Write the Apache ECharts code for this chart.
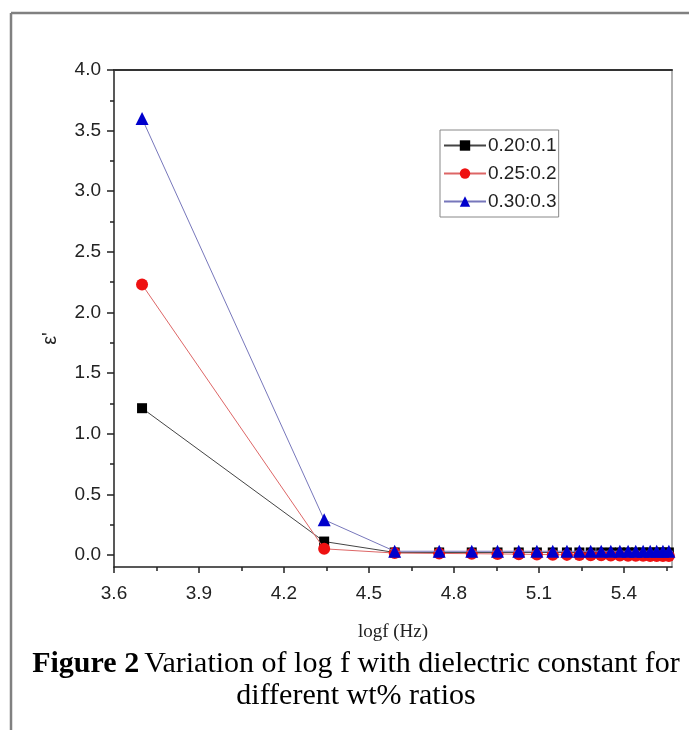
<!DOCTYPE html>
<html>
<head>
<meta charset="utf-8">
<script src="https://cdn.jsdelivr.net/npm/echarts@6/dist/echarts.min.js"></script>
<style>
html,body{margin:0;padding:0;background:#fff;}
#chart{width:689px;height:730px;}
</style>
</head>
<body>
<div id="chart"></div>
<script>
// log f (Hz) values
const logf = [3.699, 4.342, 4.591, 4.748, 4.863, 4.954, 5.029, 5.093, 5.149, 5.199, 5.243, 5.283, 5.320, 5.354, 5.386, 5.415, 5.442, 5.468, 5.493, 5.516, 5.538, 5.559, 5.579];
const series020 = [1.21, 0.11, 0.02, 0.02, 0.02, 0.02, 0.02, 0.02, 0.02, 0.02, 0.02, 0.02, 0.02, 0.02, 0.02, 0.02, 0.02, 0.02, 0.02, 0.02, 0.02, 0.02, 0.02];
const series025 = [2.23, 0.05, 0.015, 0.012, 0.01, 0.008, 0.006, 0.004, 0.002, 0.0, -0.002, -0.003, -0.004, -0.005, -0.006, -0.007, -0.008, -0.008, -0.009, -0.009, -0.01, -0.01, -0.01];
const series030 = [3.6, 0.29, 0.03, 0.03, 0.03, 0.03, 0.03, 0.03, 0.03, 0.03, 0.03, 0.03, 0.03, 0.03, 0.03, 0.03, 0.03, 0.03, 0.03, 0.03, 0.03, 0.03, 0.03];
const seriesNames = ['0.20:0.1', '0.25:0.2', '0.30:0.3'];
const xTicks = [3.6, 3.9, 4.2, 4.5, 4.8, 5.1, 5.4];
const xMinorTicks = [3.75, 4.05, 4.35, 4.65, 4.95, 5.25, 5.55];
const yTicks = [0.0, 0.5, 1.0, 1.5, 2.0, 2.5, 3.0, 3.5, 4.0];
const yMinorTicks = [0.25, 0.75, 1.25, 1.75, 2.25, 2.75, 3.25, 3.75];

const pairs = (ys) => logf.map((x, i) => [x, ys[i]]);

const chart = echarts.init(document.getElementById('chart'), null, {renderer: 'canvas'});
const XMIN = 3.6, XMAX = 5.57, YMIN = -0.1, YMAX = 4.0;
const axisColor = '#222';
const labelFont = 'Liberation Sans, Arial, sans-serif';
const serifFont = 'Liberation Serif, Times New Roman, serif';

chart.setOption({
  backgroundColor: '#fff',
  animation: false,
  title: {
    text: '{b|Figure 2} {n|Variation of log f with dielectric constant for}\n{n|different wt% ratios}',
    left: 351,
    top: 643,
    textAlign: 'center',
    textStyle: {
      fontWeight: 'normal',
      rich: {
        b: {fontFamily: serifFont, fontSize: 30, fontWeight: 'bold', color: '#000', lineHeight: 32},
        n: {fontFamily: serifFont, fontSize: 30, fontWeight: 'normal', color: '#000', lineHeight: 32}
      }
    }
  },
  graphic: [
    {type: 'line', shape: {x1: 11, y1: 13, x2: 689, y2: 13}, style: {stroke: '#808080', lineWidth: 2.5}, silent: true},
    {type: 'line', shape: {x1: 11, y1: 13, x2: 11, y2: 730}, style: {stroke: '#808080', lineWidth: 2.5}, silent: true}
  ],
  legend: {
    orient: 'vertical',
    left: 440,
    top: 130,
    data: seriesNames,
    borderColor: '#888',
    borderWidth: 1,
    padding: [6, 2, 6, 3],
    itemWidth: 42,
    itemHeight: 13,
    itemGap: 9,
    textStyle: {fontFamily: labelFont, fontSize: 19, color: '#222', padding: [0, 0, 0, -3]}
  },
  grid: {left: 114, top: 70, right: 17, bottom: 163, containLabel: false},
  xAxis: [
    {
      type: 'value', position: 'bottom', min: XMIN, max: XMAX,
      name: 'logf (Hz)', nameLocation: 'middle', nameGap: 56,
      nameTextStyle: {fontFamily: serifFont, fontSize: 19, color: '#222'},
      axisLine: {show: true, onZero: false, lineStyle: {color: axisColor, width: 1.5}},
      axisTick: {show: true, customValues: xTicks, length: 6, inside: false, lineStyle: {color: axisColor, width: 1.5}},
      axisLabel: {show: true, customValues: xTicks, margin: 17, fontFamily: labelFont, fontSize: 19, color: '#222', formatter: v => v.toFixed(1)},
      splitLine: {show: false}
    },
    {
      type: 'value', position: 'bottom', min: XMIN, max: XMAX,
      axisLine: {show: false, onZero: false},
      axisTick: {show: true, customValues: xMinorTicks, length: 4, inside: false, lineStyle: {color: axisColor, width: 1.5}},
      axisLabel: {show: false},
      splitLine: {show: false}
    },
    {
      type: 'value', position: 'top', min: XMIN, max: XMAX,
      axisLine: {show: true, onZero: false, lineStyle: {color: '#333', width: 2}},
      axisTick: {show: false}, axisLabel: {show: false}, splitLine: {show: false}
    }
  ],
  yAxis: [
    {
      type: 'value', position: 'left', min: YMIN, max: YMAX,
      name: "ε'", nameLocation: 'middle', nameGap: 54, nameRotate: 90,
      nameTextStyle: {fontFamily: labelFont, fontSize: 20, color: '#222', padding: [0, 40, 0, 0]},
      axisLine: {show: true, onZero: false, lineStyle: {color: axisColor, width: 1.5}},
      axisTick: {show: true, customValues: yTicks, length: 7, lineStyle: {color: axisColor, width: 1.5}},
      axisLabel: {show: true, customValues: yTicks, margin: 13, fontFamily: labelFont, fontSize: 19, color: '#222', formatter: v => v.toFixed(1)},
      splitLine: {show: false}
    },
    {
      type: 'value', position: 'left', min: YMIN, max: YMAX,
      axisLine: {show: false, onZero: false},
      axisTick: {show: true, customValues: yMinorTicks, length: 4, lineStyle: {color: axisColor, width: 1.5}},
      axisLabel: {show: false}, splitLine: {show: false}
    },
    {
      type: 'value', position: 'right', min: YMIN, max: YMAX,
      axisLine: {show: true, onZero: false, lineStyle: {color: '#999', width: 1.5}},
      axisTick: {show: false}, axisLabel: {show: false}, splitLine: {show: false}
    }
  ],
  series: [
    {
      name: seriesNames[0], type: 'line', xAxisIndex: 0, yAxisIndex: 0,
      data: pairs(series020), symbol: 'rect', symbolSize: 10,
      itemStyle: {color: '#000'}, lineStyle: {color: '#444', width: 1}, z: 2
    },
    {
      name: seriesNames[1], type: 'line', xAxisIndex: 0, yAxisIndex: 0,
      data: pairs(series025), symbol: 'circle', symbolSize: 12,
      itemStyle: {color: '#ee1111'}, lineStyle: {color: '#dd6666', width: 1}, z: 3
    },
    {
      name: seriesNames[2], type: 'line', xAxisIndex: 0, yAxisIndex: 0,
      data: pairs(series030), symbol: 'triangle', symbolSize: 13,
      itemStyle: {color: '#0000cc'}, lineStyle: {color: '#7777bb', width: 1}, z: 4
    }
  ]
});
</script>
</body>
</html>
